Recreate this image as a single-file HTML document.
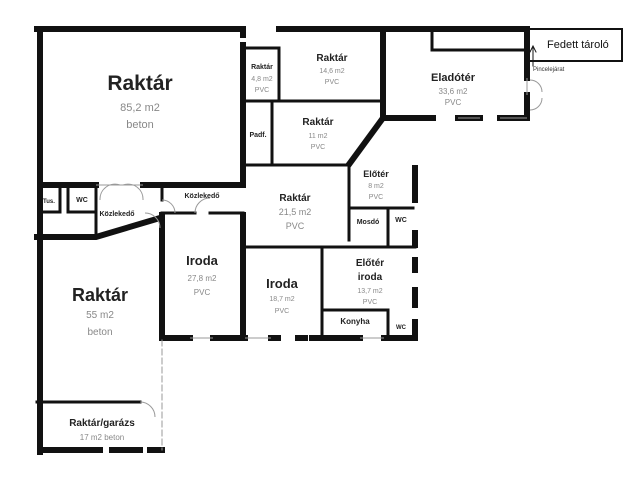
<!DOCTYPE html>
<html><head><meta charset="utf-8"><style>
body{margin:0;background:#fff;width:640px;height:480px;overflow:hidden}
svg text{font-family:"Liberation Sans",sans-serif}
.b{font-weight:bold;fill:#222}
.g{fill:#888}
</style></head><body>
<svg width="640" height="480" viewBox="0 0 640 480" xmlns="http://www.w3.org/2000/svg">
<g stroke="#111" stroke-linecap="square" fill="none">
<g stroke-width="6">
<path d="M37,29 H243 V35"/>
<path d="M40,29 V452"/>
<path d="M243,45 V185"/>
<path d="M40,185 H96 M143,185 H243"/>
<path d="M279,29 H527 V78"/>
<path d="M527,95 V118 H500"/>
<path d="M480,118 H458 M433,118 H383 V30"/>
<path d="M383,118 L350,163"/>
<path d="M415,168 V200 M415,233 V245"/>
<path d="M162,215 V338 H190 M213,338 H245"/>
<path d="M243,215 V338"/>
<path d="M271,338 H278 M298,338 H305 M312,338 H360 M384,338 H415 V322"/>
<path d="M415,305 V290 M415,270 V260"/>
<path d="M37,237 H96 L160,218"/>
<path d="M40,450 H100 M112,450 H140 M150,450 H162"/>
</g>
<g stroke-width="3">
<path d="M245,48 H279 V101"/>
<path d="M245,101 H383"/>
<path d="M272,101 V165"/>
<path d="M245,165 H349"/>
<path d="M349,163 V240"/>
<path d="M349,208 H413"/>
<path d="M388,208 V245"/>
<path d="M245,247 H415"/>
<path d="M322,247 V338"/>
<path d="M322,310 H388 V338"/>
<path d="M162,185 H243 M162,185 V200 M162,213 H195 M210,213 H243"/>
<path d="M37,402 H140"/>
<path d="M432,29 V50 H527"/>
<path d="M60,188 V212 H40 M68,188 V212 H94 M96,188 V237"/>
</g>
<path d="M530,29 H622 V61 H530" stroke-width="2"/>
<path d="M162,340 V450" stroke="#999" stroke-width="1" stroke-dasharray="6,3"/>
<path d="M533,66 V48 M530,52 L533,46 L536,52" stroke-width="1"/>
</g>
<g fill="none" stroke="#999" stroke-width="1">
<path d="M96,185 H143 M190,338 H213 M245,338 H271 M360,338 H384 M458,118 H480 M500,118 H527 M527,78 V95"/>
<path d="M145,213 a15,15 0 0 1 15,15 M195,213 a15,15 0 0 1 15,-15"/>
<path d="M162,200 a13,13 0 0 1 13,13"/>
<path d="M140,402 a15,15 0 0 1 15,15"/>
<path d="M100,200 a15,15 0 0 1 20,-15 M143,200 a15,15 0 0 0 -20,-15"/>
<path d="M530,80 a12,12 0 0 1 12,12 M530,110 a12,12 0 0 0 12,-12"/>
</g>
<text x="140" y="90" class="b" font-size="21" text-anchor="middle">Raktár</text>
<text x="140" y="111" class="g" font-size="11" text-anchor="middle">85,2 m2</text>
<text x="140" y="128" class="g" font-size="11" text-anchor="middle">beton</text>
<text x="262" y="69" class="b" font-size="7" text-anchor="middle">Raktár</text>
<text x="262" y="81" class="g" font-size="7" text-anchor="middle">4,8 m2</text>
<text x="262" y="92" class="g" font-size="7" text-anchor="middle">PVC</text>
<text x="332" y="61" class="b" font-size="10" text-anchor="middle">Raktár</text>
<text x="332" y="73" class="g" font-size="7" text-anchor="middle">14,6 m2</text>
<text x="332" y="84" class="g" font-size="7" text-anchor="middle">PVC</text>
<text x="453" y="81" class="b" font-size="11" text-anchor="middle">Eladótér</text>
<text x="453" y="94" class="g" font-size="8" text-anchor="middle">33,6 m2</text>
<text x="453" y="105" class="g" font-size="8" text-anchor="middle">PVC</text>
<text x="547" y="48" font-size="11" fill="#111">Fedett tároló</text>
<text x="533" y="71" font-size="6" fill="#333">Pincelejárat</text>
<text x="258" y="137" class="b" font-size="7" text-anchor="middle">Padf.</text>
<text x="318" y="125" class="b" font-size="10" text-anchor="middle">Raktár</text>
<text x="318" y="138" class="g" font-size="7" text-anchor="middle">11 m2</text>
<text x="318" y="149" class="g" font-size="7" text-anchor="middle">PVC</text>
<text x="376" y="177" class="b" font-size="9" text-anchor="middle">Előtér</text>
<text x="376" y="188" class="g" font-size="7" text-anchor="middle">8 m2</text>
<text x="376" y="199" class="g" font-size="7" text-anchor="middle">PVC</text>
<text x="368" y="224" class="b" font-size="7" text-anchor="middle">Mosdó</text>
<text x="401" y="222" class="b" font-size="7" text-anchor="middle">WC</text>
<text x="295" y="201" class="b" font-size="10" text-anchor="middle">Raktár</text>
<text x="295" y="215" class="g" font-size="9" text-anchor="middle">21,5 m2</text>
<text x="295" y="229" class="g" font-size="9" text-anchor="middle">PVC</text>
<text x="49" y="203" class="b" font-size="6" text-anchor="middle">Tus.</text>
<text x="82" y="202" class="b" font-size="7" text-anchor="middle">WC</text>
<text x="117" y="216" class="b" font-size="7" text-anchor="middle">Közlekedő</text>
<text x="202" y="198" class="b" font-size="7" text-anchor="middle">Közlekedő</text>
<text x="202" y="265" class="b" font-size="13" text-anchor="middle">Iroda</text>
<text x="202" y="281" class="g" font-size="8" text-anchor="middle">27,8 m2</text>
<text x="202" y="295" class="g" font-size="8" text-anchor="middle">PVC</text>
<text x="282" y="288" class="b" font-size="13" text-anchor="middle">Iroda</text>
<text x="282" y="301" class="g" font-size="7" text-anchor="middle">18,7 m2</text>
<text x="282" y="313" class="g" font-size="7" text-anchor="middle">PVC</text>
<text x="370" y="266" class="b" font-size="10" text-anchor="middle">Előtér</text>
<text x="370" y="280" class="b" font-size="10" text-anchor="middle">iroda</text>
<text x="370" y="293" class="g" font-size="7" text-anchor="middle">13,7 m2</text>
<text x="370" y="304" class="g" font-size="7" text-anchor="middle">PVC</text>
<text x="355" y="324" class="b" font-size="8" text-anchor="middle">Konyha</text>
<text x="401" y="329" class="b" font-size="6" text-anchor="middle">WC</text>
<text x="100" y="301" class="b" font-size="18" text-anchor="middle">Raktár</text>
<text x="100" y="318" class="g" font-size="10" text-anchor="middle">55 m2</text>
<text x="100" y="335" class="g" font-size="10" text-anchor="middle">beton</text>
<text x="102" y="426" class="b" font-size="10" text-anchor="middle">Raktár/garázs</text>
<text x="102" y="440" class="g" font-size="8" text-anchor="middle">17 m2 beton</text>
</svg>
</body></html>
